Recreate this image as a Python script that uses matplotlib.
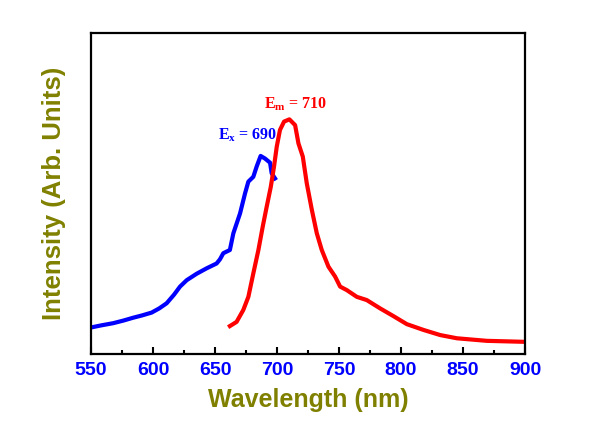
import matplotlib
matplotlib.use("Agg")
import matplotlib.pyplot as plt
from matplotlib.ticker import MultipleLocator

plt.rcParams["mathtext.fontset"] = "custom"
plt.rcParams["mathtext.rm"] = "Liberation Serif"
plt.rcParams["mathtext.bf"] = "Liberation Serif:bold"
plt.rcParams["mathtext.it"] = "Liberation Serif:italic"

# Excitation spectrum (blue)
ex_wl = [550.5, 558, 567.9, 576, 584, 591, 598.9, 605, 611, 617, 621.8, 627.2, 635.2,
         643.3, 651.3, 654, 656.7, 662, 664.8, 670.2, 674.2, 676.9, 680.9, 683.6,
         686.8, 690.3, 694.4, 695.7, 698.4]
ex_int = [0.083, 0.089, 0.096, 0.104, 0.113, 0.120, 0.129, 0.142, 0.158, 0.185, 0.21,
          0.23, 0.25, 0.267, 0.282, 0.295, 0.314, 0.324, 0.376, 0.438, 0.5, 0.537,
          0.552, 0.584, 0.617, 0.609, 0.596, 0.563, 0.547]

# Emission spectrum (red)
em_wl = [662, 667.4, 672.8, 676.9, 680.9, 685, 688.5, 691.7, 695, 697.6, 699.8, 702.4,
         705.7, 710, 714.6, 717.3, 720.8, 724, 728.1, 732.1, 736.1, 741.5, 746.9,
         750.9, 756.3, 764.4, 772.4, 783.2, 793.9, 804.7, 818.1, 831.6, 845, 869.2,
         898.8]
em_int = [0.087, 0.1, 0.137, 0.178, 0.251, 0.324, 0.397, 0.459, 0.521, 0.584, 0.646,
          0.698, 0.724, 0.731, 0.713, 0.656, 0.615, 0.532, 0.449, 0.376, 0.324, 0.272,
          0.241, 0.21, 0.199, 0.178, 0.168, 0.142, 0.118, 0.093, 0.075, 0.059, 0.049,
          0.041, 0.038]

xticks = [550, 600, 650, 700, 750, 800, 850, 900]

fig = plt.figure(figsize=(5.92, 4.34), dpi=100)
ax = fig.add_axes([91/592, 1-354/434, (525-91)/592, (354-33)/434])

ax.plot(ex_wl, ex_int, color="#0000ff", lw=3.0, solid_joinstyle="round")
ax.plot(em_wl, em_int, color="#ff0000", lw=3.0, solid_joinstyle="round")

ax.set_xlim(550, 900)
ax.set_ylim(0, 1)
ax.set_xticks(xticks)
ax.xaxis.set_minor_locator(MultipleLocator(25))
ax.set_yticks([])
ax.tick_params(axis="x", which="major", direction="in", length=5, width=1.5,
               labelsize=14, labelcolor="#0000ff", pad=6)
ax.tick_params(axis="x", which="minor", direction="in", length=3, width=1.5)
for lbl in ax.get_xticklabels():
    lbl.set_fontfamily("Liberation Sans")
    lbl.set_fontweight("bold")
for s in ax.spines.values():
    s.set_linewidth(1.6)

ax.set_xlabel("Wavelength (nm)", fontsize=18, color="#808000",
              family="Liberation Sans", fontweight="bold", labelpad=6)
ax.set_ylabel("Intensity (Arb. Units)", fontsize=18.5, color="#808000",
              family="Liberation Sans", fontweight="bold", labelpad=18)

ax.text(676, 0.655, r"$\mathbf{E_{x}}$ = 690", color="#0000ff", fontsize=11.5,
        family="Liberation Serif", fontweight="bold", ha="center", va="bottom")
ax.text(715, 0.75, r"$\mathbf{E_{m}}$ = 710", color="#ff0000", fontsize=11.5,
        family="Liberation Serif", fontweight="bold", ha="center", va="bottom")

fig.savefig("out.png", dpi=100)
